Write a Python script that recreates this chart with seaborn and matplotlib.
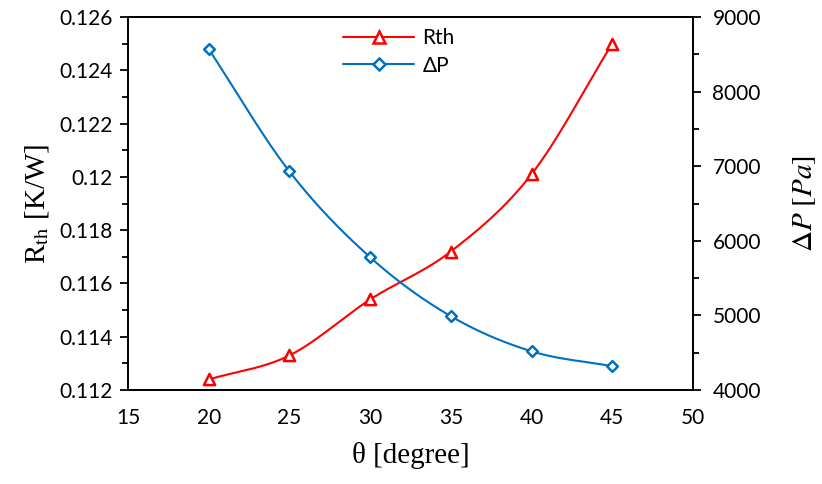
import numpy as np
import pandas as pd
import matplotlib
matplotlib.use("Agg")
import matplotlib.pyplot as plt
import seaborn as sns
from matplotlib.ticker import MultipleLocator
from matplotlib.lines import Line2D

theta = [20, 25, 30, 35, 40, 45]
rth = [0.1124, 0.1133, 0.1154, 0.1172, 0.1201, 0.1250]
dp = [8570, 6930, 5780, 4990, 4520, 4320]
rth_ticklabels = ["0.112", "0.114", "0.116", "0.118", "0.12", "0.122", "0.124", "0.126"]


def smooth(x, y, n=30):
    x = np.asarray(x, float)
    y = np.asarray(y, float)
    px = np.concatenate([[2 * x[0] - x[1]], x, [2 * x[-1] - x[-2]]])
    py = np.concatenate([[2 * y[0] - y[1]], y, [2 * y[-1] - y[-2]]])
    xs, ys = [], []
    for i in range(1, len(px) - 2):
        t = np.linspace(0, 1, n, endpoint=False)
        for P, out in ((px, xs), (py, ys)):
            p0, p1, p2, p3 = P[i - 1], P[i], P[i + 1], P[i + 2]
            out.extend(0.5 * ((2 * p1) + (-p0 + p2) * t + (2 * p0 - 5 * p1 + 4 * p2 - p3) * t ** 2
                              + (-p0 + 3 * p1 - 3 * p2 + p3) * t ** 3))
    xs.append(x[-1]); ys.append(y[-1])
    return pd.DataFrame({"x": xs, "y": ys})


sns.set_theme(style="white")
plt.rcParams["font.family"] = ["Lato", "DejaVu Sans"]
plt.rcParams["mathtext.fontset"] = "stix"
for k in ("text.color", "axes.labelcolor", "xtick.color", "ytick.color"):
    plt.rcParams[k] = "black"

fig = plt.figure(figsize=(8.22, 4.84), dpi=100)
ax = fig.add_axes([0.1557, 0.194, 0.6873, 0.771])
ax2 = ax.twinx()

red = "#FF0000"
blue = "#0070C0"

s1 = smooth(theta, rth)
s2 = smooth(theta, dp)
sns.lineplot(data=s1, x="x", y="y", ax=ax, color=red, lw=1.5, sort=False)
sns.scatterplot(x=theta, y=rth, ax=ax, marker="^", s=65, facecolor="white",
                edgecolor=red, linewidth=1.8, zorder=5)
sns.lineplot(data=s2, x="x", y="y", ax=ax2, color=blue, lw=1.5, sort=False)
sns.scatterplot(x=theta, y=dp, ax=ax2, marker="D", s=30, facecolor="white",
                edgecolor=blue, linewidth=1.8, zorder=5)

ax.set_xlim(15, 50)
ax.set_ylim(0.112, 0.126)
ax2.set_ylim(4000, 9000)
ax.xaxis.set_major_locator(MultipleLocator(5))
ax.set_yticks(np.arange(0.112, 0.1261, 0.002))
ax.set_yticklabels(rth_ticklabels)
ax.yaxis.set_minor_locator(MultipleLocator(0.001))
ax2.yaxis.set_major_locator(MultipleLocator(1000))
ax2.yaxis.set_minor_locator(MultipleLocator(500))

for a in (ax, ax2):
    for sp in a.spines.values():
        sp.set_color("black")
        sp.set_linewidth(1.3)
    a.tick_params(which="major", length=6, width=1.3, color="black", labelcolor="black",
                  labelsize=15, direction="out")
    a.tick_params(which="minor", length=4, width=1.3, color="black", direction="out")
ax.tick_params(axis="x", pad=7)
ax.tick_params(axis="y", which="both", left=True, pad=5)
ax2.tick_params(axis="y", which="both", right=True, pad=8)
ax.grid(False); ax2.grid(False)

ax.set_xlabel("θ [degree]", family=["Liberation Serif", "DejaVu Serif"], fontsize=21, labelpad=10)
ax.set_ylabel(r"R$_{\rm th}$ [K/W]", family=["Liberation Serif", "DejaVu Serif"], fontsize=21, labelpad=6)
ax2.set_ylabel(r"$\Delta P\ [Pa]$", fontsize=21, labelpad=22)

handles = [Line2D([], [], color=red, lw=1.5, marker="^", ms=8, mfc="white", mew=1.8, mec=red),
           Line2D([], [], color=blue, lw=1.5, marker="D", ms=6, mfc="white", mew=1.8, mec=blue)]
ax.legend(handles, ["Rth", "ΔP"], loc="upper center", bbox_to_anchor=(0.48, 1.02), frameon=False,
          fontsize=15, handlelength=3.4, labelspacing=0.35, handletextpad=0.4)

fig.savefig("out.png", dpi=100)
